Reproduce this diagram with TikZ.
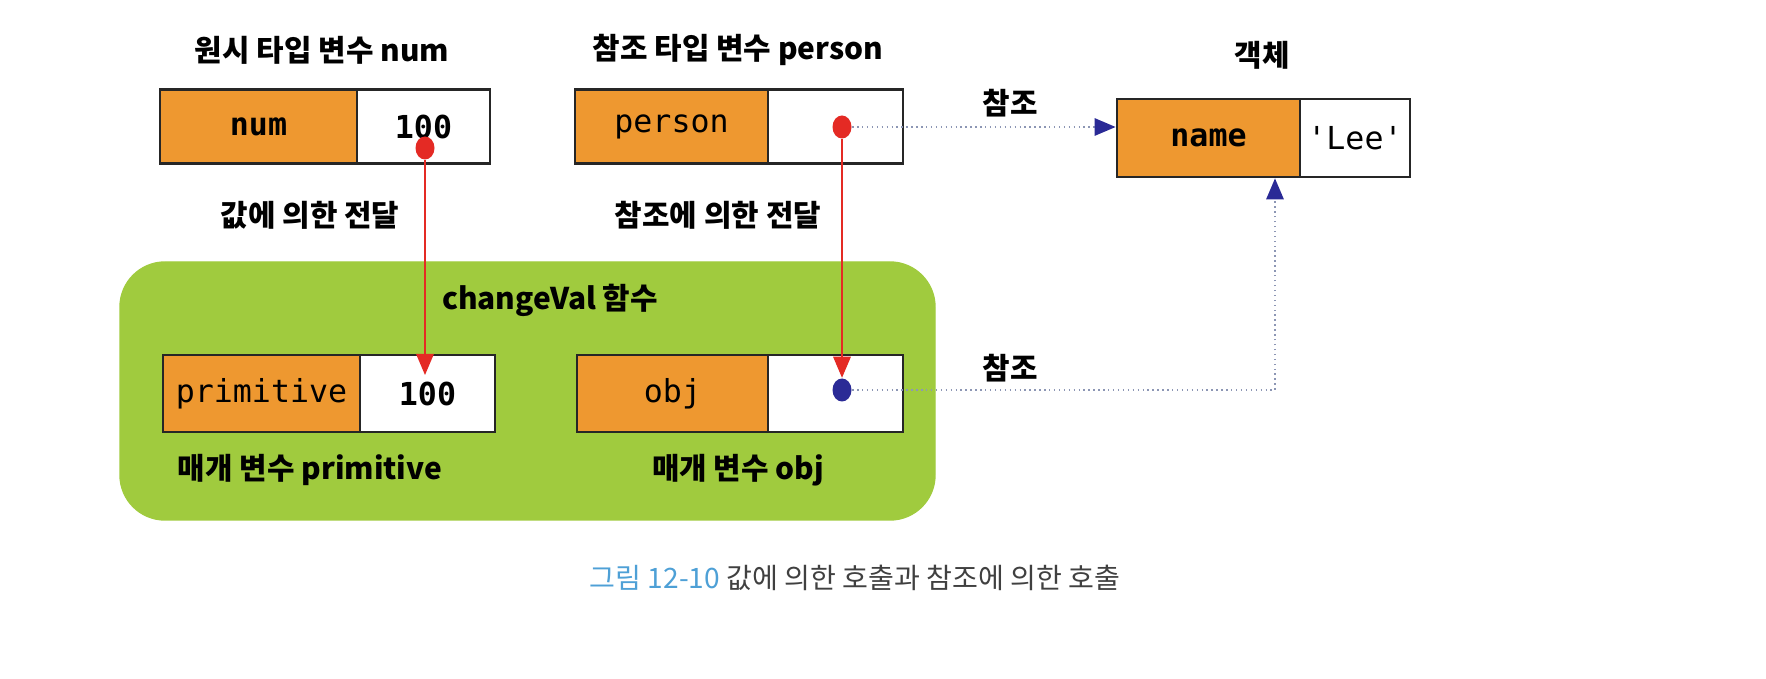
\documentclass[tikz,border=0pt]{standalone}
\usepackage{fontspec}
\setmainfont{Noto Sans CJK KR}
\setmonofont{DejaVu Sans Mono}
\usetikzlibrary{arrows.meta,shapes.geometric}
\definecolor{cellorange}{RGB}{238,152,48}
\definecolor{funcgreen}{RGB}{160,203,62}
\definecolor{dotred}{RGB}{228,42,36}
\definecolor{dotblue}{RGB}{42,42,150}
\definecolor{refgray}{RGB}{140,150,180}
\definecolor{capblue}{RGB}{78,160,214}
\begin{document}
\begin{tikzpicture}
		\tikzstyle{KeyCell} = [rectangle, minimum height=7.4mm, inner sep=0pt, text centered, draw=black!85, thick, fill=cellorange, font=\ttfamily\fontsize{9}{10}\selectfont]
		\tikzstyle{ValCell} = [KeyCell, fill=white]
		\tikzstyle{Label} = [font=\bfseries\fontsize{8.5}{10}\selectfont]
		\tikzstyle{Dot} = [ellipse, inner sep=0pt, minimum width=1.9mm, minimum height=2.3mm]
		\tikzstyle{pass} = [dotred, thin, -{Triangle[width=5pt,length=6pt]}]
		\tikzstyle{ref} = [refgray, densely dotted, -{Triangle[width=5pt,length=6pt,color=dotblue]}]
		
		\useasboundingbox (0,0) rectangle (17.66,6.78);
		\draw [funcgreen, fill=funcgreen, rounded corners=4.5mm] (1.20,1.58) rectangle (9.35,4.16);
		
		\node (numTitle) [Label] at (3.22,6.28) {원시 타입 변수 num};
		\node (personTitle) [Label] at (7.38,6.28) {참조 타입 변수 person};
		\node (objTitle) [Label] at (12.62,6.23) {객체};
		\node (numKey) [KeyCell, minimum width=19.7mm] at (2.585,5.515) {\textbf{num}};
		\node (numVal) [ValCell, minimum width=13.3mm] at (4.235,5.515) {\textbf{100}};
		\node (personKey) [KeyCell, minimum width=19.3mm] at (6.715,5.515) {person};
		\node (personVal) [ValCell, minimum width=13.5mm] at (8.355,5.515) {};
		\node (nameKey) [KeyCell, minimum width=18.3mm, minimum height=7.8mm] at (12.085,5.40) {\textbf{name}};
		\node (nameVal) [ValCell, minimum width=11.0mm, minimum height=7.8mm] at (13.55,5.40) {'Lee'};
		\node (byValue) [Label] at (3.10,4.63) {값에 의한 전달};
		\node (byRef) [Label] at (7.18,4.63) {참조에 의한 전달};
		\node (refTop) [Label] at (10.10,5.75) {참조};
		\node (funcName) [Label] at (5.50,3.78) {changeVal 함수};
		\node (primKey) [KeyCell, minimum width=19.7mm, minimum height=7.7mm] at (2.615,2.845) {primitive};
		\node (primVal) [ValCell, minimum width=13.5mm, minimum height=7.7mm] at (4.275,2.845) {\textbf{100}};
		\node (objKey) [KeyCell, minimum width=19.1mm, minimum height=7.7mm] at (6.725,2.845) {obj};
		\node (objVal) [ValCell, minimum width=13.5mm, minimum height=7.7mm] at (8.355,2.845) {};
		\node (refBottom) [Label] at (10.10,3.10) {참조};
		\node (primParam) [Label] at (3.10,2.08) {매개 변수 primitive};
		\node (objParam) [Label] at (7.38,2.08) {매개 변수 obj};
		\node (caption) [font=\fontsize{8}{10}\selectfont] at (8.55,1.00) {\textcolor{capblue}{그림 12-10} \textcolor{black!75}{값에 의한 호출과 참조에 의한 호출}};
		
		\node (numDot) [Dot, fill=dotred] at (4.25,5.30) {};
		\node (personDot) [Dot, fill=dotred] at (8.42,5.51) {};
		\node (objDot) [Dot, fill=dotblue] at (8.42,2.88) {};
		\coordinate (primIn) at (4.25,3.03);
		\coordinate (upX) at (12.75,0);
		
		\draw [pass] (numDot) -- (primIn);
		\draw [pass] (personDot) -- (objDot);
		\draw [ref] (personDot) -- (personDot -| nameKey.west);
		\draw [ref] (objDot) -| (upX |- nameKey.south);
\end{tikzpicture}
\end{document}
